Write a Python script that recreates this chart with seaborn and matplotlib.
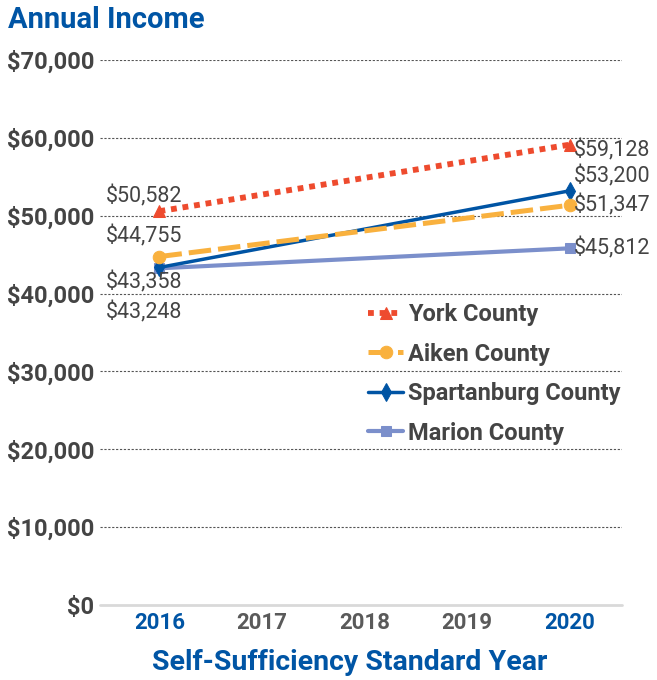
import matplotlib
matplotlib.use("Agg")
import matplotlib.pyplot as plt
import seaborn as sns
import numpy as np

# ---- data ----
years = [2016, 2020]
tick_years = [2016, 2017, 2018, 2019, 2020]
york = [50582, 59128]
aiken = [44755, 51347]
spartanburg = [43358, 53200]
marion = [43248, 45812]
series_names = ["York County", "Aiken County", "Spartanburg County", "Marion County"]
y_ticks = [0, 10000, 20000, 30000, 40000, 50000, 60000, 70000]

sns.set_theme(style="white")
plt.rcParams["font.family"] = ["Roboto", "DejaVu Sans"]

BLUE = "#0055A5"
GRAY = "#444444"
colors = {"York County": "#EE4B2E", "Aiken County": "#F9B13E",
          "Spartanburg County": "#0054A4", "Marion County": "#7B8FCB"}

fig = plt.figure(figsize=(6.57, 6.80), dpi=100)
ax = fig.add_axes([100/657, 1-605/680, (622-100)/657, (605-60)/680])

styles = {
    "Marion County": dict(data=marion, ls="-", lw=3.0, marker="s", ms=7),
    "Spartanburg County": dict(data=spartanburg, ls="-", lw=2.5, marker="d", ms=9),
    "Aiken County": dict(data=aiken, ls=(0, (4.5, 1.4)), lw=3.6, marker="o", ms=9),
    "York County": dict(data=york, ls=(0, (1, 1)), lw=4.2, marker="^", ms=9),
}
for name in ["Marion County", "Spartanburg County", "Aiken County", "York County"]:
    s = styles[name]
    sns.lineplot(x=years, y=s["data"], ax=ax, color=colors[name], linestyle=s["ls"],
                 lw=s["lw"], marker=s["marker"], ms=s["ms"], mec=colors[name],
                 mfc=colors[name], label=name, dash_capstyle="butt")

ax.set_xlim(2016 - 0.58, 2020 + 0.51)
ax.set_ylim(0, 70000)
ax.set_yticks(y_ticks)
ax.set_yticklabels([f"${v:,.0f}" for v in y_ticks], fontsize=17, fontweight="bold", color=GRAY)
ax.set_xticks(tick_years)
ax.set_xticklabels([str(y) for y in tick_years], fontsize=16, fontweight="bold")
for lbl, y in zip(ax.get_xticklabels(), tick_years):
    lbl.set_color(BLUE if y in (2016, 2020) else "#5a5a5a")
ax.tick_params(axis="y", length=0, pad=4)
ax.tick_params(axis="x", length=0, pad=5)
ax.set_xlabel("")
ax.set_ylabel("")
for sp in ax.spines.values():
    sp.set_visible(False)
for v in y_ticks[1:]:
    ax.axhline(v, color="#555555", lw=0.8, ls=(0, (2, 1.5)), zorder=0)
ax.axhline(0, color="#d9d9d9", lw=2, zorder=0, clip_on=False)

# data labels
lab_kw = dict(textcoords="offset points", fontsize=15.5, color=GRAY, va="center")
px = 0.72
ax.annotate(f"${york[0]:,}", (2016, york[0]), xytext=(-15*px, 15*px), ha="center", **lab_kw)
ax.annotate(f"${aiken[0]:,}", (2016, aiken[0]), xytext=(-15*px, 20*px), ha="center", **lab_kw)
ax.annotate(f"${spartanburg[0]:,}", (2016, spartanburg[0]), xytext=(-15*px, -15*px), ha="center", **lab_kw)
ax.annotate(f"${marion[0]:,}", (2016, marion[0]), xytext=(-15*px, -44*px), ha="center", **lab_kw)
ax.annotate(f"${york[1]:,}", (2020, york[1]), xytext=(4*px, -6*px), ha="left", **lab_kw)
ax.annotate(f"${spartanburg[1]:,}", (2020, spartanburg[1]), xytext=(4*px, 14*px), ha="left", **lab_kw)
ax.annotate(f"${aiken[1]:,}", (2020, aiken[1]), xytext=(4*px, 0), ha="left", **lab_kw)
ax.annotate(f"${marion[1]:,}", (2020, marion[1]), xytext=(4*px, 0), ha="left", **lab_kw)

# legend
h, l = ax.get_legend_handles_labels()
order = [l.index(n) for n in series_names]
ax.legend([h[i] for i in order], [l[i] for i in order], loc="upper left",
          bbox_to_anchor=(368/657, 1-303/680), bbox_transform=fig.transFigure,
          frameon=False, prop=dict(family="Roboto", weight="bold", size=17),
          labelcolor=GRAY, handlelength=1.5, handletextpad=0.2, labelspacing=0.7,
          borderpad=0, borderaxespad=0)

fig.text(8/657, 1-20/680, "Annual Income", fontsize=21, fontweight="bold", color=BLUE,
         ha="left", va="center")
fig.text(350/657, 1-662/680, "Self-Sufficiency Standard Year", fontsize=20.5,
         fontweight="bold", color=BLUE, ha="center", va="center")

fig.savefig("out.png", dpi=100)
